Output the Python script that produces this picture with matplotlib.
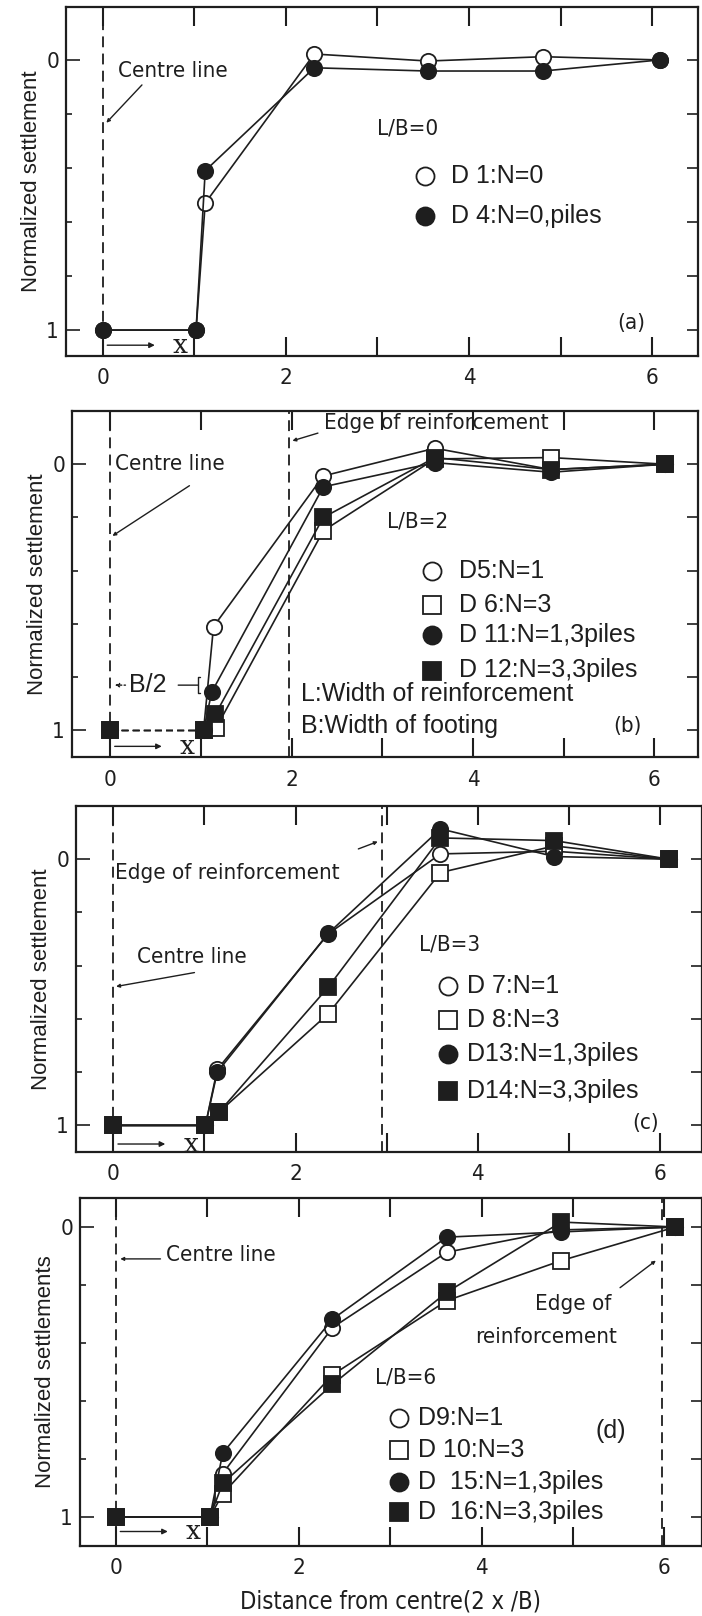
import matplotlib
matplotlib.use("Agg")
import matplotlib.pyplot as plt

# ---------------- data ----------------
# Panel (a)  L/B=0
xa = [0, 1.02, 1.12, 2.31, 3.55, 4.81, 6.08]
d1 = [1, 1, 0.53, -0.022, 0.004, -0.012, 0.0]
d4 = [1, 1, 0.41, 0.029, 0.041, 0.041, 0.0]

# Panel (b)  L/B=2
xb_d5 = [0, 1.03, 1.14, 2.35, 3.58, 4.86, 6.12]
xb_d6 = [0, 1.03, 1.17, 2.35, 3.58, 4.86, 6.12]
xb_d11 = [0, 1.03, 1.12, 2.35, 3.58, 4.86, 6.12]
xb_d12 = [0, 1.03, 1.16, 2.35, 3.58, 4.86, 6.12]
d5 = [1, 1, 0.61, 0.044, -0.06, 0.02, 0.0]
d6 = [1, 1, 0.99, 0.25, -0.02, -0.025, 0.0]
d11 = [1, 1, 0.856, 0.085, -0.006, 0.03, 0.0]
d12 = [1, 1, 0.94, 0.20, -0.025, 0.02, 0.0]

# Panel (c)  L/B=3
xc_d7 = [0, 1.01, 1.14, 2.36, 3.59, 4.84, 6.10]
xc_d8 = [0, 1.01, 1.16, 2.36, 3.59, 4.84, 6.10]
xc_d13 = [0, 1.01, 1.14, 2.36, 3.59, 4.84, 6.10]
xc_d14 = [0, 1.01, 1.16, 2.36, 3.59, 4.84, 6.10]
d7 = [1, 1, 0.79, 0.28, -0.02, -0.03, 0.0]
d8 = [1, 1, 0.95, 0.58, 0.05, -0.05, 0.0]
d13 = [1, 1, 0.80, 0.278, -0.114, -0.01, 0.0]
d14 = [1, 1, 0.95, 0.48, -0.08, -0.07, 0.0]

# Panel (d)  L/B=6
xd = [0, 1.03, 1.17, 2.37, 3.62, 4.87, 6.12]
d9 = [1, 1, 0.85, 0.347, 0.087, 0.01, 0.0]
d10 = [1, 1, 0.92, 0.51, 0.254, 0.116, 0.0]
d15 = [1, 1, 0.78, 0.318, 0.035, 0.017, 0.0]
d16 = [1, 1, 0.884, 0.543, 0.225, -0.017, 0.0]

xtick_vals = [0, 1, 2, 3, 4, 5, 6]
xtick_labels = ["0", "", "2", "", "4", "", "6"]
ylabels = ["Normalized settlement", "Normalized settlement",
           "Normalized settlement", "Normalized settlements"]
edge_positions = [None, 1.97, 2.95, 5.97]
xlabel = "Distance from centre(2 x /B)"

# ---------------- style ----------------
INK = "#1e1e1e"
NARROW = dict(family="DejaVu Sans", stretch="condensed")
SANS = dict(family="Liberation Sans")
FS_NOTE = 16
FS_LEG = 18

W, H = 702, 1616
fig = plt.figure(figsize=(W / 100, H / 100), dpi=100)
fig.patch.set_facecolor("white")


def make_axes(left, right, top, bottom):
    return fig.add_axes([left / W, 1 - bottom / H, (right - left) / W, (bottom - top) / H])


def style(ax, xlim, ylim):
    ax.set_xlim(*xlim)
    ax.set_ylim(*ylim)
    for s in ax.spines.values():
        s.set_linewidth(1.6)
        s.set_color(INK)
    ax.set_xticks(xtick_vals)
    ax.set_xticklabels(xtick_labels, fontsize=16, color=INK, **NARROW)
    ax.tick_params(axis="x", which="major", direction="in", top=True, bottom=True,
                   length=14, width=1.5, color=INK, pad=9)
    ax.set_yticks([0, 1])
    ax.set_yticklabels(["0", "1"], fontsize=16, color=INK, **NARROW)
    ax.set_yticks([0.2, 0.4, 0.6, 0.8], minor=True)
    ax.tick_params(axis="y", which="major", direction="in", left=True, right=False,
                   length=10, width=1.2, color=INK, pad=5)
    ax.tick_params(axis="y", which="minor", direction="in", left=True, right=False,
                   length=4, width=1.2, color=INK)
    sec = ax.secondary_yaxis("right")
    sec.set_yticks([0, 0.2, 0.4, 0.6, 0.8, 1.0])
    sec.set_yticklabels([])
    sec.tick_params(direction="in", length=8, width=1.2, color=INK)
    sec.spines["right"].set_visible(False)


def series(ax, x, y, marker, filled, z, ms=11, first_dashed=False):
    fc = INK if filled else "white"
    if first_dashed:
        ax.plot(x[:2], y[:2], ls=(0, (5, 3)), lw=1.0, color=INK, zorder=z)
        ax.plot(x[1:], y[1:], ls="-", lw=1.2, color=INK, zorder=z)
        ax.plot(x, y, ls="none", marker=marker, ms=ms, mfc=fc, mec=INK, mew=1.3, zorder=z + 0.5)
    else:
        ax.plot(x, y, ls="-", lw=1.2, color=INK, marker=marker, ms=ms,
                mfc=fc, mec=INK, mew=1.3, zorder=z)


def vdash(ax, xv):
    ax.axvline(xv, ls=(0, (6, 3.5)), lw=1.3, color=INK, zorder=1)


def xarrow(ax, y):
    ax.annotate("", xy=(0.6, y), xytext=(0.02, y),
                arrowprops=dict(arrowstyle="-|>", lw=1.0, color=INK, mutation_scale=8),
                annotation_clip=False)
    ax.text(0.85, y, "x", fontsize=19, family="DejaVu Serif", color=INK,
            ha="center", va="center")


def leader(ax, xy_end, xy_start):
    ax.annotate("", xy=xy_end, xytext=xy_start,
                arrowprops=dict(arrowstyle="-|>", lw=1.0, color=INK, mutation_scale=5))


def legend_rows(ax, xm, xt, rows, fs=FS_LEG):
    for (marker, filled, label, yy) in rows:
        ax.plot([xm], [yy], ls="none", marker=marker, ms=13,
                mfc=INK if filled else "white", mec=INK, mew=1.3)
        ax.text(xt, yy, label, fontsize=fs, color=INK, va="center", ha="left", **SANS)


def ylab(ax, text):
    ax.set_ylabel(text, fontsize=16, color=INK, labelpad=3, **SANS)


# ---------------- panel (a) ----------------
axa = make_axes(66, 698, 7, 356)
style(axa, (-0.40, 6.50), (1.096, -0.196))
vdash(axa, 0)
series(axa, xa, d1, "o", False, 3)
series(axa, xa, d4, "o", True, 4)
axa.text(0.17, 0.04, "Centre line", fontsize=FS_NOTE, color=INK, va="center", **NARROW)
leader(axa, (0.02, 0.24), (0.45, 0.085))
axa.text(3.0, 0.255, "L/B=0", fontsize=FS_NOTE, color=INK, va="center", **NARROW)
legend_rows(axa, 3.52, 3.80, [("o", False, "D 1:N=0", 0.43),
                               ("o", True, "D 4:N=0,piles", 0.578)])
axa.text(5.62, 0.975, "(a)", fontsize=16, color=INK, va="center", **NARROW)
xarrow(axa, 1.056)
ylab(axa, ylabels[0])

# ---------------- panel (b) ----------------
axb = make_axes(72, 698, 411, 757)
style(axb, (-0.42, 6.48), (1.10, -0.20))
vdash(axb, 0)
vdash(axb, edge_positions[1])
series(axb, xb_d5, d5, "o", False, 3, first_dashed=True)
series(axb, xb_d6, d6, "s", False, 3.2, first_dashed=True)
series(axb, xb_d11, d11, "o", True, 4, first_dashed=True)
series(axb, xb_d12, d12, "s", True, 4.2, first_dashed=True)
axb.text(2.36, -0.155, "Edge of reinforcement", fontsize=FS_NOTE, color=INK, va="center", **NARROW)
leader(axb, (1.98, -0.085), (2.32, -0.12))
axb.text(0.05, 0.0, "Centre line", fontsize=FS_NOTE, color=INK, va="center", **NARROW)
leader(axb, (0.0, 0.275), (0.9, 0.075))
axb.text(3.05, 0.215, "L/B=2", fontsize=FS_NOTE, color=INK, va="center", **NARROW)
legend_rows(axb, 3.55, 3.85, [("o", False, "D5:N=1", 0.40),
                               ("s", False, "D 6:N=3", 0.53),
                               ("o", True, "D 11:N=1,3piles", 0.64),
                               ("s", True, "D 12:N=3,3piles", 0.775)])
axb.text(2.10, 0.862, "L:Width of reinforcement", fontsize=FS_LEG, color=INK, va="center", **SANS)
axb.text(2.10, 0.983, "B:Width of footing", fontsize=FS_LEG, color=INK, va="center", **SANS)
axb.text(5.55, 0.985, "(b)", fontsize=16, color=INK, va="center", **NARROW)
axb.annotate("", xy=(0.02, 0.83), xytext=(0.2, 0.83),
             arrowprops=dict(arrowstyle="-|>", lw=1.0, ls=":", color=INK, mutation_scale=6))
axb.text(0.42, 0.83, "B/2", fontsize=FS_LEG, color=INK, va="center", ha="center", **SANS)
axb.annotate("", xy=(1.0, 0.83), xytext=(0.72, 0.83),
             arrowprops=dict(arrowstyle="-[", lw=1.0, color=INK, mutation_scale=6))
xarrow(axb, 1.06)
ylab(axb, ylabels[1])

# ---------------- panel (c) ----------------
axc = make_axes(76, 702, 806, 1152)
style(axc, (-0.41, 6.46), (1.10, -0.20))
vdash(axc, 0)
vdash(axc, edge_positions[2])
series(axc, xc_d7, d7, "o", False, 3)
series(axc, xc_d8, d8, "s", False, 3.2)
series(axc, xc_d13, d13, "o", True, 4)
series(axc, xc_d14, d14, "s", True, 4.2)
axc.text(0.02, 0.05, "Edge of reinforcement", fontsize=FS_NOTE, color=INK, va="center", **NARROW)
leader(axc, (2.93, -0.07), (2.66, -0.035))
axc.text(0.26, 0.367, "Centre line", fontsize=FS_NOTE, color=INK, va="center", **NARROW)
leader(axc, (0.0, 0.48), (0.92, 0.424))
axc.text(3.35, 0.32, "L/B=3", fontsize=FS_NOTE, color=INK, va="center", **NARROW)
legend_rows(axc, 3.67, 3.88, [("o", False, "D 7:N=1", 0.475),
                               ("s", False, "D 8:N=3", 0.605),
                               ("o", True, "D13:N=1,3piles", 0.73),
                               ("s", True, "D14:N=3,3piles", 0.87)])
axc.text(5.70, 0.99, "(c)", fontsize=16, color=INK, va="center", **NARROW)
xarrow(axc, 1.07)
ylab(axc, ylabels[2])

# ---------------- panel (d) ----------------
axd = make_axes(80, 702, 1198, 1546)
style(axd, (-0.39, 6.41), (1.10, -0.10))
vdash(axd, 0)
vdash(axd, edge_positions[3])
series(axd, xd, d9, "o", False, 3)
series(axd, xd, d10, "s", False, 3.2)
series(axd, xd, d15, "o", True, 4)
series(axd, xd, d16, "s", True, 4.2)
axd.text(0.55, 0.098, "Centre line", fontsize=FS_NOTE, color=INK, va="center", **NARROW)
leader(axd, (0.02, 0.11), (0.52, 0.11))
axd.text(5.0, 0.266, "Edge of", fontsize=FS_NOTE, color=INK, va="center", ha="center", **NARROW)
axd.text(4.70, 0.38, "reinforcement", fontsize=FS_NOTE, color=INK, va="center", ha="center", **NARROW)
leader(axd, (5.93, 0.11), (5.49, 0.215))
axd.text(2.84, 0.52, "L/B=6", fontsize=FS_NOTE, color=INK, va="center", **NARROW)
legend_rows(axd, 3.10, 3.30, [("o", False, "D9:N=1", 0.659),
                               ("s", False, "D 10:N=3", 0.769),
                               ("o", True, "D  15:N=1,3piles", 0.879),
                               ("s", True, "D  16:N=3,3piles", 0.983)])
axd.text(5.25, 0.705, "(d)", fontsize=FS_LEG, color=INK, va="center", **SANS)
xarrow(axd, 1.05)
ylab(axd, ylabels[3])
axd.set_xlabel(xlabel, fontsize=17, color=INK, labelpad=8, **NARROW)

fig.savefig("out.png", dpi=100, facecolor="white")
